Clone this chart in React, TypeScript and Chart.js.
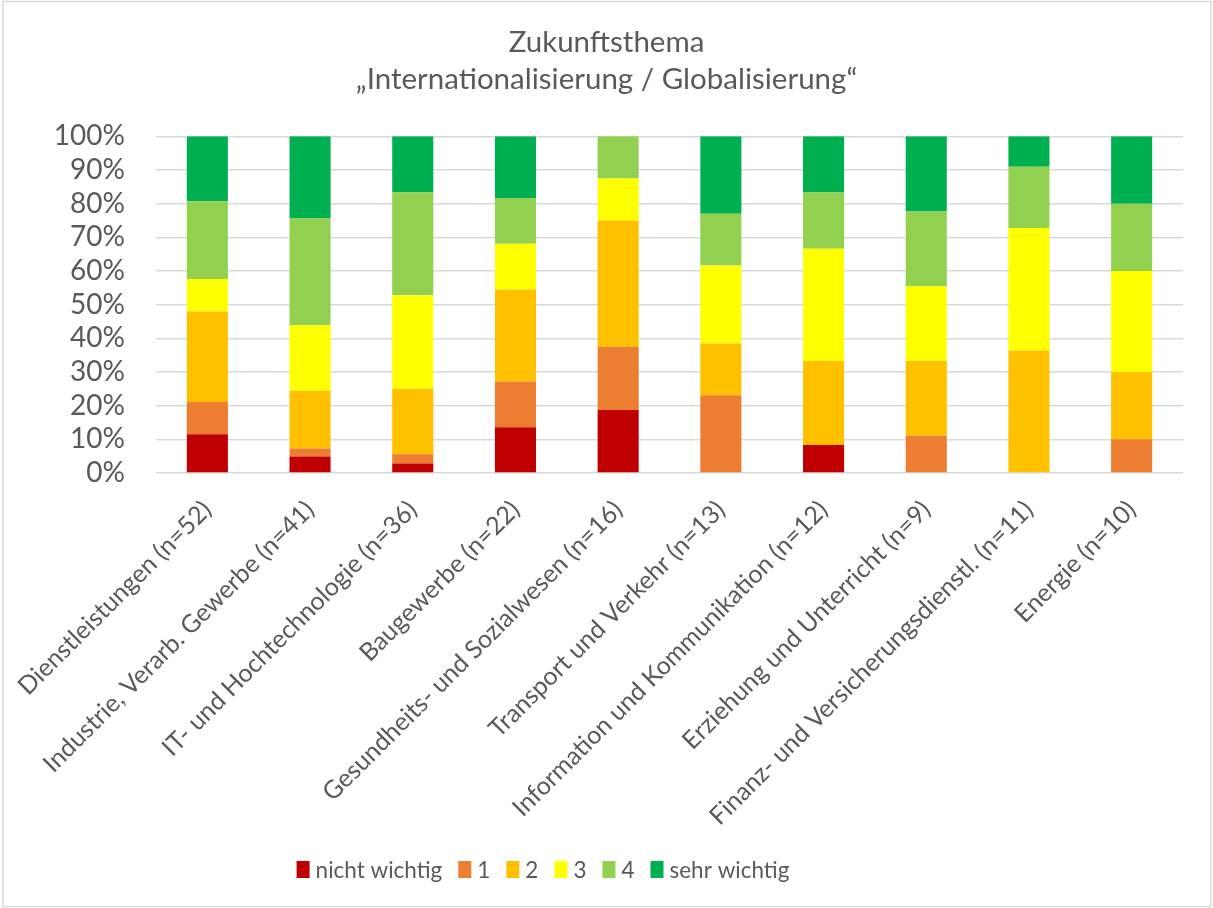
import React, { useEffect, useRef } from "react";
import { Chart, registerables } from "chart.js";

Chart.register(...registerables);

const categories = [
  "Dienstleistungen (n=52)",
  "Industrie, Verarb. Gewerbe (n=41)",
  "IT- und Hochtechnologie (n=36)",
  "Baugewerbe (n=22)",
  "Gesundheits- und Sozialwesen (n=16)",
  "Transport und Verkehr (n=13)",
  "Information und Kommunikation (n=12)",
  "Erziehung und Unterricht (n=9)",
  "Finanz- und Versicherungsdienstl. (n=11)",
  "Energie (n=10)",
];

const seriesLabels = ["nicht wichtig", "1", "2", "3", "4", "sehr wichtig"];
const seriesColors = ["#C00000", "#ED7D31", "#FFC000", "#FFFF00", "#92D050", "#00B050"];

// percent values per series, one value per category
const nichtWichtig = [11.5, 4.9, 2.8, 13.6, 18.75, 0, 8.3, 0, 0, 0];
const eins = [9.6, 2.4, 2.8, 13.6, 18.75, 23.1, 0, 11.1, 0, 10];
const zwei = [26.9, 17.1, 19.4, 27.3, 37.5, 15.4, 25, 22.2, 36.4, 20];
const drei = [9.6, 19.5, 27.8, 13.6, 12.5, 23.1, 33.3, 22.2, 36.4, 30];
const vier = [23.1, 31.7, 30.6, 13.6, 12.5, 15.4, 16.7, 22.2, 18.2, 20];
const sehrWichtig = [19.3, 24.4, 16.6, 18.3, 0, 23.0, 16.7, 22.3, 9.0, 20];

const yTicks = [0, 10, 20, 30, 40, 50, 60, 70, 80, 90, 100];

const titleLines = ["Zukunftsthema", "\u201EInternationalisierung / Globalisierung\u201C"];

const FONT = "Lato, 'Open Sans', sans-serif";
const TEXT = "#595959";

export default function App() {
  const ref = useRef<HTMLCanvasElement | null>(null);

  useEffect(() => {
    if (!ref.current) return;
    const seriesData = [nichtWichtig, eins, zwei, drei, vier, sehrWichtig];
    const borderPlugin = {
      id: "outerBorder",
      beforeDraw(chart: any) {
        const ctx = chart.ctx;
        ctx.save();
        ctx.fillStyle = "#ffffff";
        ctx.fillRect(0, 0, chart.width, chart.height);
        ctx.strokeStyle = "#d9d9d9";
        ctx.lineWidth = 1.5;
        ctx.strokeRect(3, 1.5, chart.width - 5, chart.height - 3);
        ctx.restore();
      },
    };
    const legendPlugin = {
      id: "excelLegend",
      afterDraw(chart: any) {
        const ctx = chart.ctx;
        const fontSize = 22.5;
        const boxW = 13;
        const boxH = 17;
        const gap = 6;
        const spacing = 16;
        const centerX = 543;
        const centerY = 869.5;
        ctx.save();
        ctx.font = `${fontSize}px ${FONT}`;
        const items = chart.data.datasets.map((ds: any) => ({
          text: ds.label,
          color: ds.backgroundColor,
          w: ctx.measureText(ds.label).width,
        }));
        const total =
          items.reduce((a: number, it: any) => a + boxW + gap + it.w, 0) + spacing * (items.length - 1);
        let x = centerX - total / 2;
        ctx.textBaseline = "middle";
        ctx.textAlign = "left";
        items.forEach((it: any) => {
          ctx.fillStyle = it.color;
          ctx.fillRect(x, centerY - boxH / 2, boxW, boxH);
          ctx.fillStyle = TEXT;
          ctx.fillText(it.text, x + boxW + gap, centerY + 1);
          x += boxW + gap + it.w + spacing;
        });
        ctx.restore();
      },
    };
    const chart = new Chart(ref.current, {
      type: "bar",
      data: {
        labels: categories,
        datasets: seriesLabels.map((label, i) => ({
          label,
          data: seriesData[i],
          backgroundColor: seriesColors[i],
          borderWidth: 0,
          categoryPercentage: 1,
          barPercentage: 0.4,
        })),
      },
      options: {
        animation: false,
        responsive: false,
        maintainAspectRatio: false,
        layout: { padding: 0 },
        plugins: {
          title: {
            display: true,
            text: titleLines,
            color: TEXT,
            font: { family: FONT, size: 29.5, weight: "normal", lineHeight: 1.26 },
            padding: { top: 24, bottom: 38 },
          },
          legend: { display: false },
          tooltip: { enabled: false },
        },
        scales: {
          x: {
            stacked: true,
            grid: { display: false, drawTicks: false },
            border: { display: false },
            ticks: {
              color: TEXT,
              font: { family: FONT, size: 25 },
              maxRotation: 45,
              minRotation: 45,
              autoSkip: false,
              padding: 22,
            },
            afterFit: (s: any) => {
              s.height = 435;
              s.paddingLeft = 0;
              s.paddingRight = 30;
            },
          },
          y: {
            stacked: true,
            min: 0,
            max: 100,
            afterBuildTicks: (s: any) => {
              s.ticks = yTicks.map((v) => ({ value: v }));
            },
            grid: { color: "#d9d9d9", lineWidth: 1.5, drawTicks: false },
            border: { display: false },
            ticks: {
              color: TEXT,
              font: { family: FONT, size: 28 },
              padding: 31,
              autoSkip: false,
              callback: (v: any) => v + "%",
            },
            afterFit: (s: any) => {
              s.width = 156;
            },
          },
        },
      },
      plugins: [borderPlugin, legendPlugin],
    });
    return () => chart.destroy();
  }, []);

  return (
    <div style={{ position: "absolute", left: 0, top: 0, width: 1213, height: 908, background: "#fff" }}>
      <canvas ref={ref} width={1213} height={908} style={{ display: "block" }} />
    </div>
  );
}
